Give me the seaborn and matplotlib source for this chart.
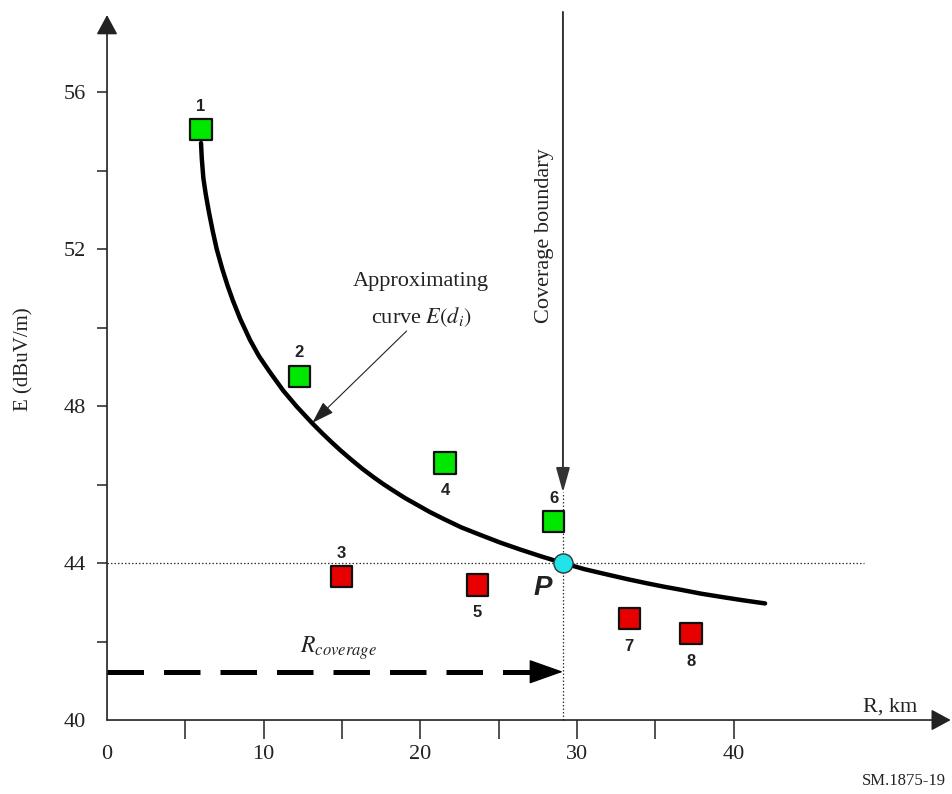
import matplotlib
matplotlib.use("Agg")
import matplotlib.pyplot as plt
import seaborn as sns
import pandas as pd

# ---------------- data ----------------
point_ids = ["1", "2", "3", "4", "5", "6", "7", "8"]
point_R = [6.0, 12.27, 14.96, 21.57, 23.65, 28.5, 33.33, 37.27]
point_E = [55.04, 48.76, 43.65, 46.55, 43.44, 45.05, 42.59, 42.21]
point_status = ["above", "above", "below", "above", "below", "above", "below", "below"]
label_side = ["top", "top", "top", "bottom", "bottom", "top", "bottom", "bottom"]

curve_R = [6.0, 6.05, 6.15, 6.3, 6.5, 6.75, 7.0, 7.35, 7.7, 8.04, 8.5, 9.13, 9.7,
           10.4, 11.25, 12.1, 13.1, 13.7, 14.3, 14.9, 15.6, 16.3, 17.0, 17.6,
           18.25, 19.0, 19.8, 20.6, 21.5, 22.6, 23.8, 25.1, 26.4, 27.7, 29.1,
           30.5, 32.0, 33.2, 34.5, 35.5, 36.6, 37.9, 39.3, 40.6, 42.0]
curve_E = [54.7, 54.3, 53.8, 53.4, 52.95, 52.45, 52.0, 51.5, 51.06, 50.68, 50.22,
           49.68, 49.27, 48.86, 48.39, 47.99, 47.56, 47.32, 47.09, 46.87, 46.63,
           46.4, 46.19, 46.02, 45.85, 45.66, 45.48, 45.3, 45.12, 44.91, 44.72,
           44.52, 44.34, 44.17, 44.0, 43.84, 43.7, 43.59, 43.48, 43.4, 43.32,
           43.22, 43.13, 43.05, 42.97]

threshold_E = 44.0
P_R, P_E = 29.1, 44.0
coverage_arrow_E = 41.23

x_major = [0, 10, 20, 30, 40]
x_minor = [5, 15, 25, 35]
y_major = [40, 44, 48, 52, 56]
y_minor = [42, 46, 50, 54]

# ---------------- style ----------------
sns.set_style("white")
plt.rcParams["font.family"] = ["Liberation Serif", "DejaVu Serif"]
plt.rcParams["mathtext.fontset"] = "stix"

INK = "#222222"
fig = plt.figure(figsize=(9.52, 7.94), dpi=100)
ax = fig.add_axes([0, 0, 1, 1])
ax.set_xlim(-6.83, 53.93)
ax.set_ylim(38.115, 58.344)
ax.set_facecolor("white")

for s in ax.spines.values():
    s.set_visible(False)
ax.spines["left"].set_position(("data", 0))
ax.spines["bottom"].set_position(("data", 40))

ax.set_xticks(x_major)
ax.set_xticks(x_minor, minor=True)
ax.set_yticks(y_major)
ax.set_yticks(y_minor, minor=True)
ax.set_xticklabels([str(v) for v in x_major])
ax.set_yticklabels([str(v) for v in y_major])
ax.tick_params(axis="x", which="both", direction="out", length=14, width=1.1,
               color=INK, pad=4, labelsize=16, labelcolor=INK,
               bottom=True, top=False, labelbottom=True)
ax.tick_params(axis="y", which="both", direction="out", length=7.5, width=1.1,
               color=INK, pad=8, labelsize=16, labelcolor=INK,
               left=True, right=False, labelleft=True)
ax.xaxis.get_major_ticks()[0].tick1line.set_visible(False)
ax.yaxis.get_major_ticks()[0].tick1line.set_visible(False)

# axes with arrows
ax.annotate("", xy=(0, 57.96), xytext=(0, 40),
            arrowprops=dict(arrowstyle="-|>,head_length=1.2,head_width=0.65",
                            lw=1.2, color=INK, shrinkA=0, shrinkB=0), zorder=3)
ax.annotate("", xy=(53.85, 40), xytext=(0, 40),
            arrowprops=dict(arrowstyle="-|>,head_length=1.2,head_width=0.65",
                            lw=1.2, color=INK, shrinkA=0, shrinkB=0), zorder=3)

# dotted reference lines
ax.plot([0, 48.3], [threshold_E, threshold_E], color="#333333", lw=0.9,
        linestyle=(0, (1.2, 1.6)), zorder=2)
ax.plot([P_R, P_R], [40, 45.8], color="#333333", lw=0.9,
        linestyle=(0, (1.2, 1.6)), zorder=2)

# coverage boundary arrow
ax.annotate("", xy=(P_R, 45.8), xytext=(P_R, 58.04),
            arrowprops=dict(arrowstyle="-|>,head_length=1.5,head_width=0.42",
                            lw=1.4, color="#333333", shrinkA=0, shrinkB=0), zorder=3)
ax.text(27.95, 52.35, "Coverage boundary", rotation=90, ha="center", va="center",
        fontsize=16, color=INK)

# approximating curve
sns.lineplot(x=curve_R, y=curve_E, color="black", lw=3.2, sort=False,
             estimator=None, ax=ax, zorder=3, solid_joinstyle="round",
             solid_capstyle="round")

# R coverage dashed arrow
ax.plot([0, 27.3], [coverage_arrow_E, coverage_arrow_E], color="black", lw=3.6,
        linestyle=(0, (7.3, 4.0)), zorder=3)
ax.annotate("", xy=(P_R, coverage_arrow_E), xytext=(26.9, coverage_arrow_E),
            arrowprops=dict(arrowstyle="-|>,head_length=2.2,head_width=0.78",
                            lw=1, color="black", shrinkA=0, shrinkB=0), zorder=3)
ax.text(12.32, 41.71, r"$R_{coverage}$", ha="left", va="baseline", fontsize=17,
        color=INK)

# measurement points
df = pd.DataFrame({"R": point_R, "E": point_E, "status": point_status, "id": point_ids})
sns.scatterplot(data=df, x="R", y="E", hue="status",
                palette={"above": "#00e800", "below": "#e80000"},
                marker="s", s=235, edgecolor="#111111", linewidth=1.6,
                legend=False, ax=ax, zorder=5)
ax.set_xlabel("")
ax.set_ylabel("")
for r, e, t, side in zip(point_R, point_E, point_ids, label_side):
    dy = 17 if side == "top" else -20
    ax.annotate(t, xy=(r, e), xytext=(0, dy), textcoords="offset points",
                ha="center", va="center", fontsize=12, fontweight="bold",
                family="Liberation Sans", color=INK, zorder=6)

# point P
ax.scatter([P_R], [P_E], s=190, color="#22e3ea", edgecolor="#333333",
           linewidth=1.0, zorder=6)
ax.text(27.82, 43.36, "P", ha="center", va="center", fontsize=20,
        fontweight="bold", fontstyle="italic", family="Liberation Sans", color=INK)

# annotation for the curve
ax.text(20.04, 51.16, "Approximating", ha="center", va="center", fontsize=16, color=INK)
ax.text(20.04, 50.27, r"curve $E(d_i)$", ha="center", va="center", fontsize=16, color=INK)
ax.annotate("", xy=(13.1, 47.57), xytext=(19.12, 49.91),
            arrowprops=dict(arrowstyle="-|>,head_length=1.4,head_width=0.45",
                            lw=0.8, color=INK, shrinkA=0, shrinkB=0), zorder=4)

# axis titles and source
ax.text(-5.3, 49.2, "E (dBuV/m)", rotation=90, ha="center", va="center",
        fontsize=15, color=INK)
ax.text(48.25, 40.21, "R, km", ha="left", va="baseline", fontsize=16, color=INK)
ax.text(48.18, 38.45, "SM.1875-19", ha="left", va="center", fontsize=12, color=INK)

fig.savefig("out.png", dpi=100, facecolor="white")
